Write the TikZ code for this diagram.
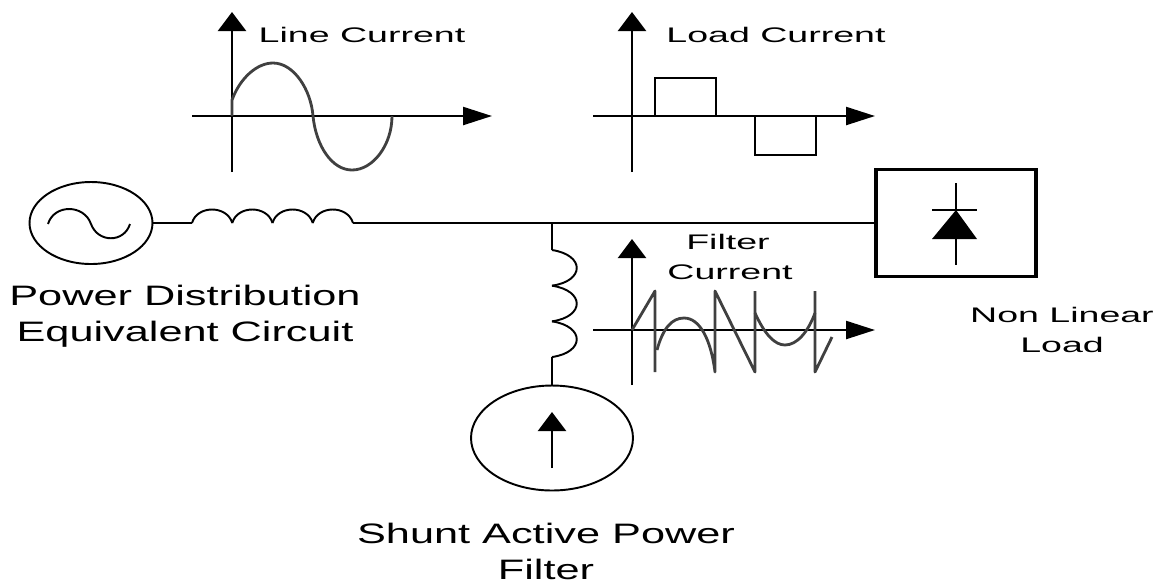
\documentclass[tikz,border=0pt]{standalone}
\usepackage{fontspec}
\setmainfont{Liberation Sans}
\usetikzlibrary{arrows.meta,shapes.geometric}

\begin{document}
\begin{tikzpicture}[x=0.02cm,y=-0.02cm,
    wire/.style ={line width=1.1pt},
    coil/.style ={line width=1.1pt, line join=round},
    axisup/.style ={line width=1.3pt, -{Triangle[length=0.38cm,width=0.56cm]}},
    axisright/.style ={line width=1.3pt, -{Triangle[length=0.58cm,width=0.36cm]}},
    wave/.style ={line width=1.6pt, black!75, line join=round},
    source/.style ={ellipse, draw, line width=1.1pt, inner sep=0pt},
    bigtext/.style ={transform shape, xscale=1.54, align=center, font=\fontsize{16}{20.5}\selectfont},
    smalltext/.style ={transform shape, xscale=1.78, align=center, font=\fontsize{12}{17}\selectfont}]
   \useasboundingbox (0,0) rectangle (1159,583);

   \node[source, minimum width=2.46cm, minimum height=1.64cm] (ac) at (91,223) {};
   \node[source, minimum width=3.24cm, minimum height=2.1cm] (shunt) at (552,438) {};
   \node[draw, line width=2pt, minimum width=3.2cm, minimum height=2.14cm] (load) at (956,223) {};

   \coordinate (acL) at (192,223);
   \coordinate (acR) at (353,223);
   \coordinate (tee) at (552,223);
   \coordinate (filtT) at (552,250);
   \coordinate (filtB) at (552,357);

   % wiring
   \draw[wire] (ac) -- (acL);
   \draw[wire] (acR) -- (tee);
   \draw[wire] (tee) -- (load);
   \draw[wire] (tee) -- (filtT);
   \draw[wire] (filtB) -- (shunt);

   % the two coils
   \foreach \i in {0,1,2,3}
      \draw[coil] (192+40.25*\i,223) .. controls (197+40.25*\i,205) and (227+40.25*\i,205) .. (232.25+40.25*\i,223);
   \foreach \i in {0,1,2}
      \draw[coil] (552,250+35.67*\i) .. controls (585,255+35.67*\i) and (585,281+35.67*\i) .. (552,285.67+35.67*\i);

   % ac symbol
   \draw[coil] (48,224) .. controls (54,204) and (84,204) .. (91,224) .. controls (98,243) and (124,243) .. (130,224);

   % line current
   \coordinate (lineB) at (232,172);
   \coordinate (lineT) at (232,12);
   \coordinate (lineL) at (192,116);
   \coordinate (lineR) at (492,116);
   \draw[axisup] (lineB) -- (lineT);
   \draw[axisright] (lineL) -- (lineR);
   \draw[wave] (232,116) -- (232,100) .. controls (240,78) and (257,63) .. (273,63)
      .. controls (294,63) and (311,90) .. (313,116)
      .. controls (316,146) and (332,170) .. (352,170)
      .. controls (373,170) and (392,145) .. (392,116);

   % load current
   \coordinate (loadB) at (632,172);
   \coordinate (loadT) at (632,12);
   \coordinate (loadL) at (593,116);
   \coordinate (loadR) at (875,116);
   \draw[axisup] (loadB) -- (loadT);
   \draw[axisright] (loadL) -- (loadR);
   \draw[line width=1.3pt] (655,116) rectangle (716,78);
   \draw[line width=1.3pt] (755,116) rectangle (816,155);

   % filter current
   \coordinate (filB) at (632,385);
   \coordinate (filT) at (632,239);
   \coordinate (filL) at (593,330);
   \coordinate (filR) at (875,330);
   \draw[axisup] (filB) -- (filT);
   \draw[axisright] (filL) -- (filR);
   \draw[wave] (632,330) -- (655,291) -- (655,372);
   \draw[wave] (657,350) .. controls (663,328) and (672,318) .. (684,318)
      .. controls (700,318) and (711,340) .. (715,372) -- (715,291) -- (755,372) -- (755,291);
   \draw[wave] (755,313) .. controls (765,335) and (775,345) .. (785,345)
      .. controls (797,345) and (808,332) .. (815,313);
   \draw[wave] (815,291) -- (815,372) -- (832,337);

   % diode
   \coordinate (diodeT) at (956,183);
   \coordinate (diodeB) at (956,265);
   \coordinate (diodeL) at (932,239);
   \coordinate (diodeR) at (977,239);
   \coordinate (diodeM) at (956,210);
   \draw[line width=1.3pt] (diodeT) -- (diodeB);
   \draw[line width=1.3pt] (932,210) -- (977,210);
   \fill (diodeL) -- (diodeM) -- (diodeR) -- cycle;

   % arrow of the filter source
   \coordinate (shuntB) at (552,468);
   \coordinate (shuntT) at (552,412);
   \draw[axisup] (shuntB) -- (shuntT);

   \node[bigtext] (acText) at (185,316) {Power Distribution\\Equivalent Circuit};
   \node[bigtext] (shuntText) at (546,551) {Shunt Active Power\\Filter};
   \node[smalltext] (lineText) at (362,35) {Line Current};
   \node[smalltext] (loadText) at (776,35) {Load Current};
   \node[smalltext] (filterText) at (728,242) {Filter};
   \node[smalltext] (currentText) at (730,272) {Current};
   \node[smalltext] (loadName) at (1062,330) {Non Linear\\Load};
\end{tikzpicture}
\end{document}
